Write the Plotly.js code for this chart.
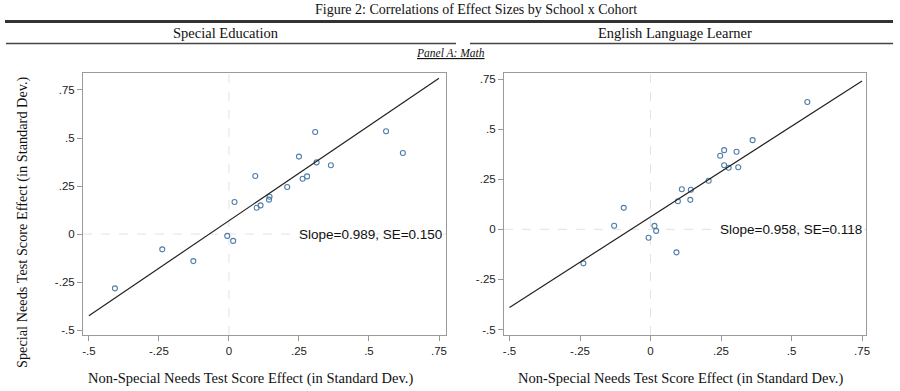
<!DOCTYPE html>
<html>
<head>
<meta charset="utf-8">
<script src="https://cdn.plot.ly/plotly-3.0.1.min.js"></script>
<style>html,body{margin:0;padding:0;background:#fff;}#chart{width:900px;height:391px;}</style>
</head>
<body>
<div id="chart"></div>
<script>
// ---- data ----
const tickVals = [-0.5, -0.25, 0, 0.25, 0.5, 0.75];
const tickText = ["-.5", "-.25", "0", ".25", ".5", ".75"];

const spedX = [-0.407,-0.238,-0.127,-0.006,0.015,0.020,0.094,0.099,0.113,0.143,0.145,0.208,0.250,0.263,0.279,0.308,0.313,0.364,0.561,0.621];
const spedY = [-0.283,-0.080,-0.141,-0.010,-0.036,0.167,0.302,0.137,0.149,0.179,0.194,0.245,0.403,0.288,0.300,0.531,0.373,0.358,0.535,0.422];
const spedFit = {slope: 0.989, intercept: 0.069};
const spedLabel = "Slope=0.989, SE=0.150";

const ellX = [-0.238,-0.129,-0.095,-0.007,0.014,0.020,0.092,0.097,0.111,0.141,0.143,0.206,0.247,0.261,0.261,0.277,0.305,0.311,0.362,0.556];
const ellY = [-0.170,0.018,0.107,-0.042,0.017,-0.008,-0.115,0.140,0.200,0.147,0.197,0.242,0.367,0.395,0.320,0.307,0.387,0.310,0.445,0.635];
const ellFit = {slope: 0.904, intercept: 0.062};
const ellLabel = "Slope=0.958, SE=0.118";

const figTitle = "Figure 2: Correlations of Effect Sizes by School x Cohort";
const panelTitles = ["Special Education", "English Language Learner"];
const panelSub = "Panel A: Math";
const xTitle = "Non-Special Needs Test Score Effect (in Standard Dev.)";
const yTitle = "Special Needs Test Score Effect (in Standard Dev.)";

// ---- build ----
const W = 900, H = 391;
const px = v => v / W;
const py = v => 1 - v / H;
const serif = "Liberation Serif, Times New Roman, serif";
const sans = "Liberation Sans, Arial, sans-serif";

const xMin = tickVals[0], xMax = tickVals[tickVals.length - 1];
function fitLine(f) {
  return {x: [xMin, xMax], y: [f.intercept + f.slope * xMin, f.intercept + f.slope * xMax]};
}
const marker = {symbol: "circle-open", size: 5, color: "#4f7eaa", line: {width: 1.1, color: "#4f7eaa"}};
const fl1 = fitLine(spedFit), fl2 = fitLine(ellFit);

const traces = [
  {x: spedX, y: spedY, mode: "markers", type: "scatter", marker: marker, xaxis: "x", yaxis: "y", hoverinfo: "x+y"},
  {x: fl1.x, y: fl1.y, mode: "lines", type: "scatter", line: {color: "#222", width: 1.2}, xaxis: "x", yaxis: "y"},
  {x: ellX, y: ellY, mode: "markers", type: "scatter", marker: marker, xaxis: "x2", yaxis: "y2", hoverinfo: "x+y"},
  {x: fl2.x, y: fl2.y, mode: "lines", type: "scatter", line: {color: "#222", width: 1.2}, xaxis: "x2", yaxis: "y2"}
];

const axBase = {
  showgrid: false, zeroline: false, showline: true, mirror: true,
  linecolor: "#9a9a9a", linewidth: 1, ticks: "outside", ticklen: 5, tickcolor: "#9a9a9a",
  tickmode: "array", tickvals: tickVals, ticktext: tickText,
  tickfont: {family: sans, size: 11.5, color: "#222"}, fixedrange: true
};

function txt(text, x, y, size, extra) {
  return Object.assign({text: text, xref: "paper", yref: "paper", x: px(x), y: py(y),
    xanchor: "center", yanchor: "middle", showarrow: false,
    font: {family: serif, size: size, color: "#111"}}, extra || {});
}

const layout = {
  width: W, height: H,
  margin: {l: 0, r: 0, t: 0, b: 0},
  paper_bgcolor: "#fff", plot_bgcolor: "#fff",
  showlegend: false,
  xaxis: Object.assign({}, axBase, {domain: [px(83), px(446)], range: [-0.521, 0.775], anchor: "y"}),
  yaxis: Object.assign({}, axBase, {domain: [py(335), py(73)], range: [-0.526, 0.8385], anchor: "x"}),
  xaxis2: Object.assign({}, axBase, {domain: [px(504), px(866)], range: [-0.5195, 0.764], anchor: "y2"}),
  yaxis2: Object.assign({}, axBase, {domain: [py(335), py(73)], range: [-0.5275, 0.78], anchor: "x2"}),
  shapes: [
    {type: "line", xref: "x", yref: "y domain", x0: 0, x1: 0, y0: 0, y1: 1, line: {color: "#e2e2e2", width: 1, dash: "dash"}, layer: "below"},
    {type: "line", xref: "x domain", yref: "y", x0: 0, x1: 1, y0: 0, y1: 0, line: {color: "#e2e2e2", width: 1, dash: "dash"}, layer: "below"},
    {type: "line", xref: "x2", yref: "y2 domain", x0: 0, x1: 0, y0: 0, y1: 1, line: {color: "#e2e2e2", width: 1, dash: "dash"}, layer: "below"},
    {type: "line", xref: "x2 domain", yref: "y2", x0: 0, x1: 1, y0: 0, y1: 0, line: {color: "#e2e2e2", width: 1, dash: "dash"}, layer: "below"},
    {type: "line", xref: "paper", yref: "paper", x0: px(5), x1: px(893), y0: py(21.5), y1: py(21.5), line: {color: "#333", width: 3}},
    {type: "line", xref: "paper", yref: "paper", x0: px(6), x1: px(456), y0: py(43.5), y1: py(43.5), line: {color: "#444", width: 1.5}},
    {type: "line", xref: "paper", yref: "paper", x0: px(470), x1: px(893), y0: py(43.5), y1: py(43.5), line: {color: "#444", width: 1.5}}
  ],
  annotations: [
    txt(figTitle, 476, 10, 14),
    txt(panelTitles[0], 226, 33, 14.5),
    txt(panelTitles[1], 675, 33, 14.5),
    txt("<u><i>" + panelSub + "</i></u>", 450, 53, 11.5),
    txt(yTitle, 22, 222, 14.3, {textangle: -90}),
    txt(xTitle, 250, 378, 14.5),
    txt(xTitle, 680, 378, 14.5),
    {text: spedLabel, xref: "x", yref: "y", x: 0.768, y: 0, xanchor: "right", yanchor: "middle", showarrow: false, font: {family: sans, size: 13.5, color: "#111"}},
    {text: ellLabel, xref: "x2", yref: "y2", x: 0.757, y: 0, xanchor: "right", yanchor: "middle", showarrow: false, font: {family: sans, size: 13.5, color: "#111"}}
  ]
};

Plotly.newPlot("chart", traces, layout, {displayModeBar: false, staticPlot: true});
</script>
</body>
</html>
